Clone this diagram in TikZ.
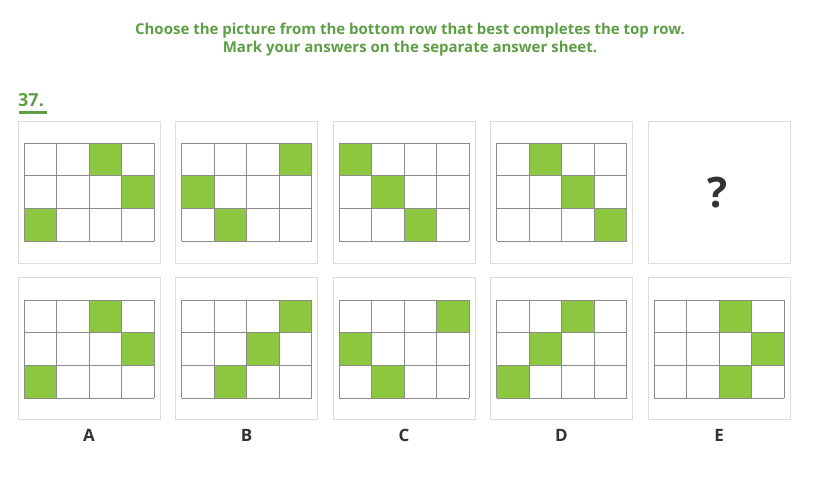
\documentclass[tikz,border=0pt]{standalone}
\usepackage{fontspec}
\setmainfont{Open Sans}
\definecolor{titlegreen}{HTML}{5E9E45}
\definecolor{cellgreen}{HTML}{8DC63F}
\definecolor{gridgray}{HTML}{8C8C8C}
\definecolor{framegray}{HTML}{DCDCDC}
\definecolor{darktext}{HTML}{333333}
\tikzset{
  frame/.style={draw=framegray, line width=0.8pt},
  gridline/.style={draw=gridgray, line width=0.6pt},
  greencell/.style={fill=cellgreen},
  title/.style={text=titlegreen, font=\bfseries\fontsize{15}{17.5}\selectfont, align=center},
  answerlabel/.style={text=darktext, font=\bfseries\fontsize{17}{20}\selectfont},
}
\begin{document}
\begin{tikzpicture}[x=1pt,y=-1pt]
\useasboundingbox (0,0) rectangle (813,487);
\node[title] (title) at (410,39.5) {Choose the picture from the bottom row that best completes the top row.\\Mark your answers on the separate answer sheet.};
\node[text=titlegreen, font=\bfseries\fontsize{18}{20}\selectfont, anchor=west, inner sep=0pt] (num) at (18,100) {37.};
\draw[titlegreen, line width=3pt] (19,112) -- (47,112);
% top row
\foreach \i/\cells in {0/{3/1,4/2,1/3},1/{4/1,1/2,2/3},2/{1/1,2/2,3/3},3/{2/1,3/2,4/3}}{
  \pgfmathsetmacro{\xl}{18+157.5*\i}
  \draw[frame] (\xl,121) rectangle ++(142,142);
  \foreach \c/\r in \cells {
    \fill[greencell] ({\xl+6+32.5*(\c-1)},{143+32.67*(\r-1)}) rectangle ++(32.5,32.67);
  }
  \foreach \k in {0,...,4} {\draw[gridline] ({\xl+6+32.5*\k},143) -- ++(0,98);}
  \foreach \k in {0,...,3} {\draw[gridline] ({\xl+6},{143+32.67*\k}) -- ++(130,0);}
}
\draw[frame] (648,121) rectangle ++(142,142);
\node[text=darktext, font=\bfseries\fontsize{42}{46}\selectfont] (q) at (718,193) {?};
% bottom row
\foreach \i/\lab/\cells in {0/A/{3/1,4/2,1/3},1/B/{4/1,3/2,2/3},2/C/{4/1,1/2,2/3},3/D/{3/1,2/2,1/3},4/E/{3/1,4/2,3/3}}{
  \pgfmathsetmacro{\xl}{18+157.5*\i}
  \draw[frame] (\xl,277) rectangle ++(142,142);
  \foreach \c/\r in \cells {
    \fill[greencell] ({\xl+6+32.5*(\c-1)},{300+32.67*(\r-1)}) rectangle ++(32.5,32.67);
  }
  \foreach \k in {0,...,4} {\draw[gridline] ({\xl+6+32.5*\k},300) -- ++(0,98);}
  \foreach \k in {0,...,3} {\draw[gridline] ({\xl+6},{300+32.67*\k}) -- ++(130,0);}
  \node[answerlabel] (lab\lab) at ({\xl+71},435) {\lab};
}
\end{tikzpicture}
\end{document}
